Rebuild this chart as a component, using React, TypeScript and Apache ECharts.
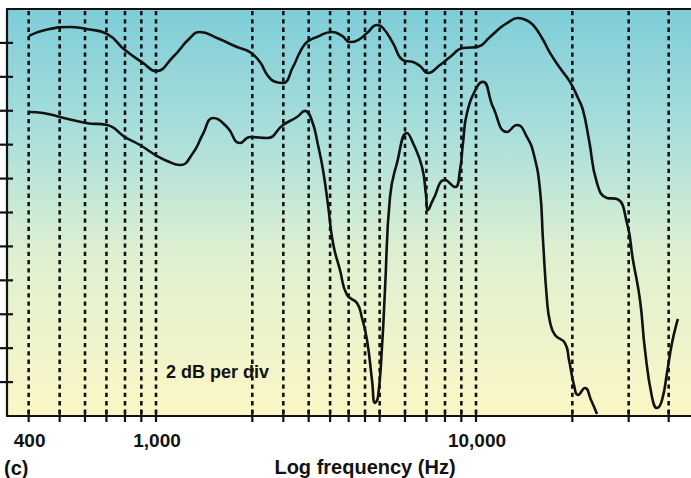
import React, { useEffect, useRef } from "react";
import * as echarts from "echarts";

// Upper response curve (frequency in Hz, level in dB on a 0–24 dB frame, 2 dB per div)
const freqA = [401, 450, 538, 604, 703, 800, 911, 1000, 1130, 1277, 1372, 1551, 1791, 1967, 2113, 2239, 2371, 2494, 2680, 2818, 2964, 3185, 3548, 3814, 4040, 4279, 4565, 4906, 5122, 5503, 5914, 6355, 6683, 7079, 7718, 8293, 9107, 10072, 11059, 11885, 12500, 13529, 14330, 15072, 16082, 17033, 18302, 19668, 20833, 21595, 22549, 23884, 25661, 27572, 29636, 30942, 32546, 33738, 35481, 36782, 38129, 39524, 40973, 42472, 42780];
const dbA = [22.41, 22.76, 22.94, 22.82, 22.53, 21.58, 20.82, 20.34, 21.17, 22.29, 22.64, 22.29, 21.76, 21.46, 20.87, 20.05, 19.7, 19.64, 20.58, 21.46, 22.05, 22.35, 22.64, 22.41, 22.05, 22.17, 22.58, 23.06, 22.88, 21.99, 20.99, 20.87, 20.64, 20.23, 20.7, 21.17, 21.7, 21.76, 22.35, 22.88, 23.17, 23.47, 23.35, 23.06, 22.29, 21.41, 20.52, 19.7, 18.75, 18.04, 16.28, 13.74, 12.86, 12.8, 11.38, 9.2, 6.84, 3.89, 1.12, 0.47, 0.94, 2.54, 4.3, 5.54, 5.72];

// Lower response curve
const freqB = [401, 444, 501, 604, 703, 800, 891, 1007, 1082, 1189, 1305, 1402, 1507, 1667, 1830, 1967, 2223, 2494, 2758, 2922, 3073, 3208, 3326, 3448, 3574, 3758, 3952, 4247, 4403, 4565, 4732, 4835, 4940, 5085, 5195, 5386, 5664, 6087, 6355, 6781, 6979, 7079, 7339, 8000, 8598, 8913, 9107, 9373, 10072, 10517, 11301, 12500, 13431, 14434, 15179, 15849, 16194, 16667, 17033, 17655, 18972, 19527, 20242, 20833, 21910, 22877, 23884];
const dbB = [17.93, 17.87, 17.63, 17.28, 17.16, 16.45, 15.98, 15.33, 15.04, 14.8, 15.51, 16.63, 17.57, 17.04, 16.1, 16.45, 16.39, 17.16, 17.63, 17.99, 17.4, 15.98, 14.51, 12.44, 10.2, 8.61, 7.14, 6.66, 5.78, 4.48, 2.12, 0.77, 1.12, 4.07, 7.43, 12.91, 14.92, 16.69, 16.1, 14.68, 13.03, 12.15, 12.74, 13.92, 13.5, 14.51, 16.1, 17.87, 19.4, 19.7, 18.22, 16.75, 17.16, 16.45, 15.39, 13.33, 10.38, 6.84, 5.54, 4.78, 4.3, 3.3, 1.83, 1.24, 1.65, 0.94, 0.12];

// Dashed frequency grid lines (Hz)
const gridFreqs = [400, 500, 600, 700, 800, 900, 1000, 2000, 2500, 3000, 3500, 4000, 4500, 5000, 6000, 7000, 8000, 9000, 10000, 20000, 30000, 40000];
// Frequency tick labels
const labelFreqs = [400, 1000, 10000];
const tickLabels = ["400", "1,000", "10,000"];
// Level ticks (dB)
const yTicks = [2, 4, 6, 8, 10, 12, 14, 16, 18, 20, 22];

const X_MIN = 342.3;
const X_MAX = 46977;
const Y_MIN = 0;
const Y_MAX = 24;

const FONT = '"Liberation Sans", Arial, Helvetica, sans-serif';
const INK = "#121212";

export default function App() {
  const ref = useRef<HTMLDivElement>(null);

  useEffect(() => {
    document.body.style.margin = "0";
    const chart = echarts.init(ref.current as HTMLDivElement, null, { renderer: "svg" });

    const hiddenAxisParts = {
      axisTick: { show: false },
      axisLabel: { show: false },
      splitLine: { show: false },
    };
    const axisLineStyle = { color: INK, width: 2.2 };

    chart.setOption({
      animation: false,
      backgroundColor: "#ffffff",
      grid: {
        left: 7,
        right: 0,
        top: 9,
        bottom: 62,
        show: true,
        borderWidth: 0,
        backgroundColor: new echarts.graphic.LinearGradient(0, 0, 0, 1, [
          { offset: 0, color: "#7ecdd8" },
          { offset: 0.33, color: "#ade0db" },
          { offset: 0.6, color: "#def0d0" },
          { offset: 1, color: "#fcf6c6" },
        ]),
      },
      xAxis: [
        {
          type: "log",
          logBase: 10,
          min: X_MIN,
          max: X_MAX,
          axisLine: { show: true, onZero: false, lineStyle: axisLineStyle },
          ...hiddenAxisParts,
        },
        {
          type: "value",
          position: "top",
          min: 0,
          max: 1,
          axisLine: { show: true, onZero: false, lineStyle: axisLineStyle },
          ...hiddenAxisParts,
        },
      ],
      yAxis: {
        type: "value",
        min: Y_MIN,
        max: Y_MAX,
        axisLine: { show: true, onZero: false, lineStyle: axisLineStyle },
        ...hiddenAxisParts,
      },
      graphic: [
        {
          type: "text",
          x: 4,
          y: 468,
          style: {
            text: "(c)",
            fontSize: 20,
            fontWeight: "bold",
            fontFamily: FONT,
            fill: INK,
            align: "left",
            verticalAlign: "middle",
          },
        },
        {
          type: "text",
          x: 365,
          y: 467,
          style: {
            text: "Log frequency (Hz)",
            fontSize: 20,
            fontWeight: "bold",
            fontFamily: FONT,
            fill: INK,
            align: "center",
            verticalAlign: "middle",
          },
        },
        {
          type: "text",
          x: 166,
          y: 372,
          z: 10,
          style: {
            text: "2 dB per div",
            fontSize: 18,
            fontWeight: "bold",
            fontFamily: FONT,
            fill: INK,
            align: "left",
            verticalAlign: "middle",
          },
        },
      ],
      series: [
        {
          type: "custom",
          name: "grid",
          xAxisIndex: 0,
          yAxisIndex: 0,
          z: 1,
          silent: true,
          data: gridFreqs.map((f) => [f, Y_MIN]),
          renderItem: (params: any, api: any) => {
            const p = api.coord([api.value(0), api.value(1)]);
            const cs = params.coordSys;
            const top = cs.y;
            const bottom = cs.y + cs.height;
            return {
              type: "group",
              children: [
                {
                  type: "line",
                  shape: { x1: p[0], y1: top + 2, x2: p[0], y2: bottom },
                  style: { stroke: INK, lineWidth: 2.6, lineDash: [4.3, 4] },
                },
                {
                  type: "line",
                  shape: { x1: p[0], y1: bottom - 6, x2: p[0], y2: bottom + 6 },
                  style: { stroke: INK, lineWidth: 2.2 },
                },
              ],
            };
          },
        },
        {
          type: "custom",
          name: "xlabels",
          xAxisIndex: 0,
          yAxisIndex: 0,
          z: 2,
          silent: true,
          data: labelFreqs.map((f) => [f, Y_MIN]),
          renderItem: (params: any, api: any) => {
            const p = api.coord([api.value(0), api.value(1)]);
            return {
              type: "text",
              x: p[0] + 1,
              y: p[1] + 24.5,
              style: {
                text: tickLabels[params.dataIndex],
                fontSize: 19,
                fontWeight: "bold",
                fontFamily: FONT,
                fill: INK,
                align: "center",
                verticalAlign: "middle",
              },
            };
          },
        },
        {
          type: "custom",
          name: "yticks",
          xAxisIndex: 0,
          yAxisIndex: 0,
          z: 2,
          silent: true,
          data: yTicks.map((v) => [X_MIN, v]),
          renderItem: (params: any, api: any) => {
            const p = api.coord([api.value(0), api.value(1)]);
            return {
              type: "line",
              shape: { x1: p[0] - 7, y1: p[1], x2: p[0] + 6, y2: p[1] },
              style: { stroke: INK, lineWidth: 2.2 },
            };
          },
        },
        {
          type: "line",
          name: "upper",
          xAxisIndex: 0,
          yAxisIndex: 0,
          z: 3,
          smooth: 0.5,
          showSymbol: false,
          symbol: "none",
          lineStyle: { color: INK, width: 2.6 },
          data: freqA.map((f, i) => [f, dbA[i]]),
        },
        {
          type: "line",
          name: "lower",
          xAxisIndex: 0,
          yAxisIndex: 0,
          z: 3,
          smooth: 0.5,
          showSymbol: false,
          symbol: "none",
          lineStyle: { color: INK, width: 2.6 },
          data: freqB.map((f, i) => [f, dbB[i]]),
        },
      ],
    });

    return () => chart.dispose();
  }, []);

  return (
    <div
      ref={ref}
      style={{ position: "absolute", left: 0, top: 0, width: 691, height: 478 }}
    />
  );
}
